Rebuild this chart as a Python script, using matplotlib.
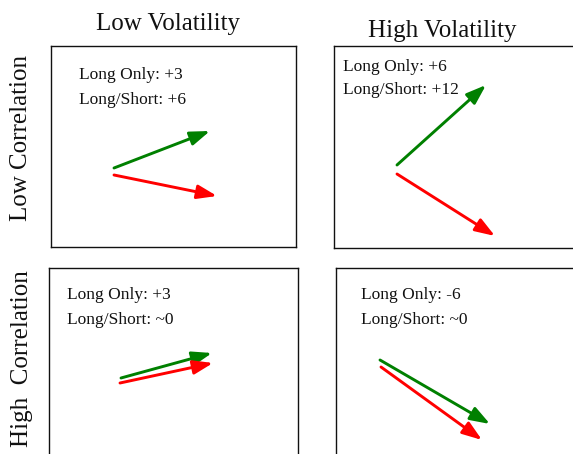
import matplotlib
matplotlib.use("Agg")
import matplotlib.pyplot as plt

W, H = 573, 454
DPI = 100

# Panels: column (volatility) x row (correlation)
col_titles = ["Low Volatility", "High Volatility"]
row_titles = ["Low Correlation", "High  Correlation"]

# Annotation texts per panel (TL, TR, BL, BR)
long_only = ["+3", "+6", "+3", "-6"]
long_short = ["+6", "+12", "~0", "~0"]

# Arrow start/end points per panel, in pixels relative to the panel's top-left corner
green_start = [(63, 122), (63, 119), (72, 110), (44, 92)]
green_end = [(159, 85), (152, 39), (163, 85), (154, 156)]
red_start = [(63, 129), (63, 128), (71, 115), (45, 99)]
red_end = [(166, 150), (161, 190), (164, 95), (146, 172)]

# Panel box extents in figure pixels: (left, top, right, bottom)
boxes = [(51, 46, 296, 247), (334, 46, 585, 248), (49, 268, 298, 470), (336, 268, 585, 470)]
text_offsets = [(28, 29, 54), (9, 21, 44), (18, 27, 52), (25, 27, 52)]

plt.rcParams["font.family"] = ["Liberation Serif", "DejaVu Serif"]

fig = plt.figure(figsize=(W / DPI, H / DPI), dpi=DPI)
fig.patch.set_facecolor("white")

for i, (l, t, r, b) in enumerate(boxes):
    w, h = r - l, b - t
    ax = fig.add_axes([l / W, 1 - b / H, w / W, h / H])
    ax.set_xlim(0, w)
    ax.set_ylim(h, 0)
    ax.set_xticks([])
    ax.set_yticks([])
    for sp in ax.spines.values():
        sp.set_linewidth(1.0)
        sp.set_color("#111111")
    tx, ty1, ty2 = text_offsets[i]
    ax.text(tx, ty1, f"Long Only: {long_only[i]}", fontsize=12.5, va="center", ha="left", color="#111111")
    ax.text(tx, ty2, f"Long/Short: {long_short[i]}", fontsize=12.5, va="center", ha="left", color="#111111")
    for s, e, c in [(green_start[i], green_end[i], "#008000"), (red_start[i], red_end[i], "#ff0000")]:
        ax.annotate("", xy=e, xytext=s,
                    arrowprops=dict(arrowstyle="-|>,head_length=0.85,head_width=0.3",
                                    color=c, lw=2.1, shrinkA=0, shrinkB=0,
                                    mutation_scale=14))

# Column titles
fig.text(168 / W, 1 - 24 / H, col_titles[0], fontsize=18, ha="center", va="center", color="#111111")
fig.text(442 / W, 1 - 31 / H, col_titles[1], fontsize=18, ha="center", va="center", color="#111111")
# Row titles
fig.text(21 / W, 1 - 138 / H, row_titles[0], fontsize=18, ha="center", va="center", rotation=90, color="#111111")
fig.text(22 / W, 1 - 359 / H, row_titles[1], fontsize=18, ha="center", va="center", rotation=90, color="#111111")

fig.savefig("out.png", dpi=DPI, facecolor="white")
